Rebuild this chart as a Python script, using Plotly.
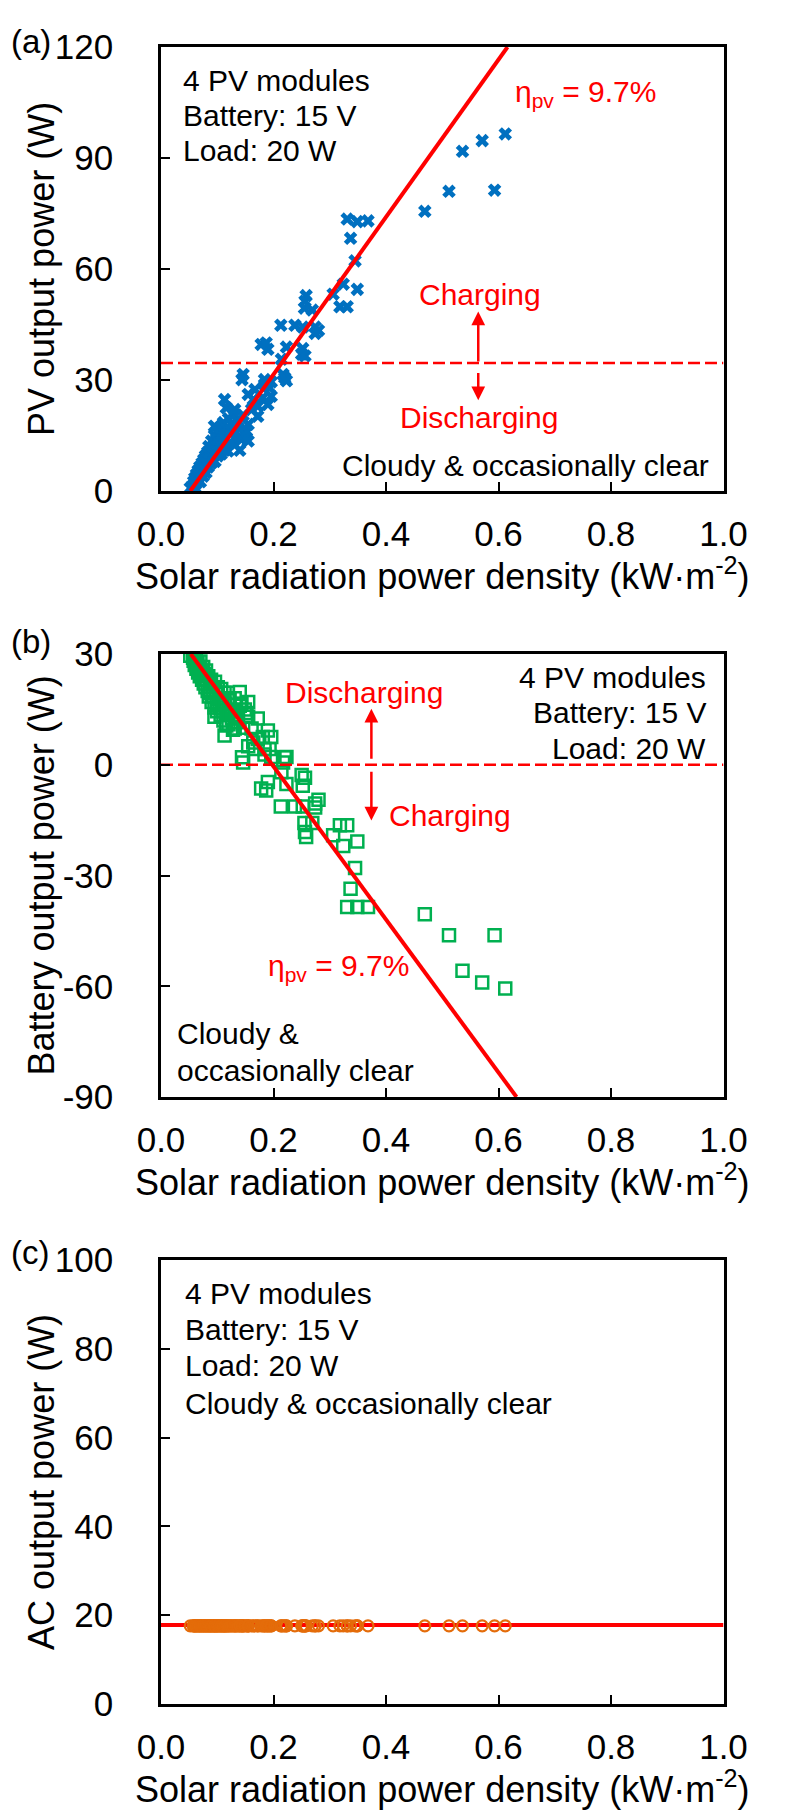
import plotly.graph_objects as go

FONT = "Liberation Sans, Arial, sans-serif"
BLUE = "#0070C0"
GREEN = "#00B050"
ORANGE = "#E46C0A"
RED = "#FF0000"

# ---- data ----
irradiance = [
    0.052, 0.057, 0.058, 0.060, 0.060, 0.062, 0.063, 0.065, 0.066, 0.068,
    0.069, 0.070, 0.072, 0.073, 0.075, 0.076, 0.077, 0.079, 0.080, 0.081,
    0.083, 0.084, 0.085, 0.087, 0.088, 0.089, 0.090, 0.092, 0.093, 0.095,
    0.095, 0.096, 0.098, 0.099, 0.100, 0.101, 0.103, 0.104, 0.106, 0.107,
    0.108, 0.110, 0.111, 0.113, 0.113, 0.114, 0.116, 0.117, 0.119, 0.120,
    0.122, 0.124, 0.126, 0.128, 0.131, 0.131, 0.133, 0.135, 0.137, 0.140,
    0.143, 0.146, 0.146, 0.144, 0.149, 0.152, 0.155, 0.155, 0.140, 0.155,
    0.161, 0.164, 0.167, 0.172, 0.172, 0.178, 0.181, 0.184, 0.184, 0.190,
    0.193, 0.196, 0.196, 0.190, 0.187, 0.214, 0.217, 0.220, 0.223, 0.223,
    0.213, 0.238, 0.252, 0.274, 0.280, 0.274, 0.250, 0.256, 0.252, 0.258,
    0.256, 0.255, 0.269, 0.306, 0.318, 0.331, 0.324, 0.349, 0.345, 0.337,
    0.331, 0.349, 0.368, 0.469, 0.512, 0.593, 0.536, 0.571, 0.612,
]
pv_power = [
    0.8, 1.5, 2.5, 1.0, 3.5, 2.0, 4.5, 3.0, 5.5, 4.0,
    6.5, 2.5, 5.0, 7.5, 4.0, 8.5, 6.0, 9.5, 5.0, 7.5,
    10.5, 6.5, 12.0, 8.5, 11.0, 7.5, 13.5, 9.5, 12.0, 15.0,
    17.5, 8.0, 11.0, 14.0, 16.0, 9.5, 12.5, 15.0, 17.0, 10.0,
    13.5, 16.0, 18.5, 11.0, 24.7, 14.0, 22.5, 17.0, 10.8, 19.5,
    13.0, 15.5, 18.0, 21.0, 12.5, 22.0, 16.0, 19.0, 17.1, 14.5,
    13.9, 20.5, 31.5, 30.1, 15.5, 16.2, 26.1, 18.0, 11.0, 13.5,
    22.0, 24.7, 27.4, 22.9, 20.2, 39.6, 25.2, 30.1, 28.8, 23.4,
    27.9, 25.6, 29.5, 38.3, 40.0, 35.6, 31.5, 30.6, 29.8, 38.9,
    44.8, 44.8, 44.3, 44.3, 43.4, 42.6, 37.0, 36.5, 38.5, 52.8,
    51.3, 49.4, 48.9, 53.2, 49.8, 49.8, 55.9, 54.5, 62.2, 68.3,
    73.5, 72.8, 73.0, 75.6, 81.0, 81.3, 91.8, 94.7, 96.5,
]
battery_power = [
    29.5, 29.0, 28.2, 29.3, 27.0, 28.5, 26.0, 27.5, 25.0, 26.5,
    24.0, 28.0, 25.5, 23.0, 26.5, 22.0, 24.5, 21.0, 25.5, 23.0,
    20.0, 24.0, 18.5, 22.0, 19.5, 23.0, 17.0, 21.0, 18.5, 15.5,
    13.0, 22.5, 19.5, 16.5, 14.5, 21.0, 18.0, 15.5, 13.5, 20.5,
    17.0, 14.5, 12.0, 19.5, 7.9, 16.5, 10.6, 13.5, 19.5, 11.0,
    17.5, 15.0, 12.5, 9.5, 18.0, 9.8, 14.5, 11.5, 13.5, 16.0,
    16.5, 10.0, 0.6, 2.0, 15.0, 14.0, 5.0, 13.0, 19.7, 17.0,
    9.8, 6.0, 4.3, 7.0, 12.5, -6.4, 7.5, 2.8, 4.3, 9.3,
    4.3, 7.5, 2.1, -4.7, -7.0, -2.0, 0.6, 2.0, 2.1, -5.2,
    -11.3, -11.3, -11.3, -10.5, -9.5, -11.6, -2.8, -3.5, -5.7, -19.6,
    -18.2, -15.8, -15.8, -19.1, -16.4, -16.4, -22.0, -20.8, -28.0, -33.6,
    -38.5, -38.5, -38.5, -40.5, -46.2, -46.2, -55.8, -59.0, -60.6,
]
ac_power = [17.6] * len(irradiance)

pv_fit_x = [0.052, 0.616]
pv_fit_y = [0, 120]
bat_fit_x = [0.053, 0.632]
bat_fit_y = [30, -90]
ac_fit_x = [0.0, 1.0]
ac_fit_y = [17.8, 17.8]
pv_threshold = 34.6
bat_threshold = 0.0

x_ticks = [0.0, 0.2, 0.4, 0.6, 0.8, 1.0]
x_tick_text = ["0.0", "0.2", "0.4", "0.6", "0.8", "1.0"]
y_ticks_a = [0, 30, 60, 90, 120]
y_ticks_b = [-90, -60, -30, 0, 30]
y_ticks_c = [0, 20, 40, 60, 80, 100]

W, H = 787, 1812
X0, X1 = 153, 715.5
panels_px = [(39, 483), (646, 1089), (1252, 1696)]


def ydom(top, bottom):
    return [1 - bottom / H, 1 - top / H]


fig = go.Figure()

# Panel (a)
fig.add_trace(go.Scatter(x=irradiance, y=pv_power, mode="markers",
                         marker=dict(symbol="x", size=12, color=BLUE, line=dict(width=0)),
                         xaxis="x", yaxis="y", showlegend=False))
fig.add_trace(go.Scatter(x=[0, 1], y=[pv_threshold, pv_threshold], mode="lines",
                         line=dict(color=RED, width=2.5, dash="12px,5px"),
                         xaxis="x", yaxis="y", showlegend=False))
fig.add_trace(go.Scatter(x=pv_fit_x, y=pv_fit_y, mode="lines",
                         line=dict(color=RED, width=4),
                         xaxis="x", yaxis="y", showlegend=False))

# Panel (b)
fig.add_trace(go.Scatter(x=irradiance, y=battery_power, mode="markers",
                         marker=dict(symbol="square-open", size=12, color=GREEN,
                                     line=dict(width=2.5, color=GREEN)),
                         xaxis="x2", yaxis="y2", showlegend=False))
fig.add_trace(go.Scatter(x=[0, 1], y=[bat_threshold, bat_threshold], mode="lines",
                         line=dict(color=RED, width=2.5, dash="12px,5px"),
                         xaxis="x2", yaxis="y2", showlegend=False))
fig.add_trace(go.Scatter(x=bat_fit_x, y=bat_fit_y, mode="lines",
                         line=dict(color=RED, width=4),
                         xaxis="x2", yaxis="y2", showlegend=False))

# Panel (c)
fig.add_trace(go.Scatter(x=ac_fit_x, y=ac_fit_y, mode="lines",
                         line=dict(color=RED, width=4),
                         xaxis="x3", yaxis="y3", showlegend=False))
fig.add_trace(go.Scatter(x=irradiance, y=ac_power, mode="markers",
                         marker=dict(symbol="circle-open", size=11, color=ORANGE,
                                     line=dict(width=2.2, color=ORANGE)),
                         xaxis="x3", yaxis="y3", showlegend=False))

axis_common = dict(showline=True, linecolor="black", linewidth=2.5, mirror=True,
                   ticks="inside", ticklen=9, tickwidth=2, tickcolor="black",
                   showgrid=False, zeroline=False, automargin=False,
                   tickfont=dict(family=FONT, size=35, color="black"))

xdom = [X0 / W, X1 / W]
yranges = [[0, 120], [-90, 30], [0, 100]]
yticks = [y_ticks_a, y_ticks_b, y_ticks_c]
for i in range(3):
    sfx = "" if i == 0 else str(i + 1)
    fig.update_layout(**{
        "xaxis" + sfx: dict(axis_common, domain=xdom, range=[0, 1], tickvals=x_ticks,
                            ticktext=x_tick_text, anchor="y" + sfx,
                            ticklabelstandoff=10),
        "yaxis" + sfx: dict(axis_common, domain=ydom(*panels_px[i]), range=yranges[i],
                            tickvals=yticks[i], ticktext=[str(v) for v in yticks[i]],
                            anchor="x" + sfx, ticklabelstandoff=38),
    })

ann = []
TXT = dict(family=FONT, size=30, color="black")
RTXT = dict(family=FONT, size=30, color=RED)
AX_T = dict(family=FONT, size=36, color="black")


def text(xr, yr, x, y, t, font, xanchor="center", yanchor="middle", **kw):
    d = dict(xref=xr, yref=yr, x=x, y=y, text=t, font=font, showarrow=False,
             xanchor=xanchor, yanchor=yanchor)
    d.update(kw)
    ann.append(d)


def arrow(xr, yr, x, y0, y1):
    ann.append(dict(xref=xr, yref=yr, axref=xr, ayref=yr, x=x, y=y1, ax=x, ay=y0,
                    text="", showarrow=True, arrowhead=2, arrowsize=1.1,
                    arrowwidth=2.5, arrowcolor=RED))


# Panel (a) annotations
text("x", "y", 0.036, 111.0, "4 PV modules", TXT, "left")
text("x", "y", 0.036, 101.6, "Battery: 15 V", TXT, "left")
text("x", "y", 0.036, 92.0, "Load: 20 W", TXT, "left")
text("x", "y", 0.626, 107.5, "η<sub>pv</sub> = 9.7%", RTXT, "left")
text("x", "y", 0.567, 53.0, "Charging", RTXT)
text("x", "y", 0.565, 20.0, "Discharging", RTXT)
text("x", "y", 0.977, 7.0, "Cloudy & occasionally clear", TXT, "right")
arrow("x", "y", 0.564, pv_threshold, 48.5)
arrow("x", "y", 0.564, 32.3, 24.5)

# Panel (b) annotations
text("x2", "y2", 0.973, 23.7, "4 PV modules", TXT, "right")
text("x2", "y2", 0.973, 14.1, "Battery: 15 V", TXT, "right")
text("x2", "y2", 0.973, 4.5, "Load: 20 W", TXT, "right")
text("x2", "y2", 0.360, 19.7, "Discharging", RTXT)
text("x2", "y2", 0.513, -13.8, "Charging", RTXT)
text("x2", "y2", 0.316, -55.0, "η<sub>pv</sub> = 9.7%", RTXT)
text("x2", "y2", 0.025, -72.7, "Cloudy &", TXT, "left")
text("x2", "y2", 0.025, -82.8, "occasionally clear", TXT, "left")
arrow("x2", "y2", 0.374, 1.2, 15.2)
arrow("x2", "y2", 0.374, -1.5, -15.1)

# Panel (c) annotations
text("x3", "y3", 0.039, 92.5, "4 PV modules", TXT, "left")
text("x3", "y3", 0.039, 84.4, "Battery: 15 V", TXT, "left")
text("x3", "y3", 0.039, 76.2, "Load: 20 W", TXT, "left")
text("x3", "y3", 0.039, 67.6, "Cloudy & occasionally clear", TXT, "left")

# Axis titles and panel labels
ytitles = ["PV output power (W)", "Battery output power (W)", "AC output power (W)"]
labels = ["(a)", "(b)", "(c)"]
label_y = [33, 633, 1244]
for i in range(3):
    top, bottom = panels_px[i]
    text("paper", "paper", (X0 + X1) / 2 / W, 1 - (bottom + 83) / H,
         "Solar radiation power density (kW·m<sup>-2</sup>)", AX_T)
    text("paper", "paper", 33 / W, 1 - (top + bottom) / 2 / H, ytitles[i], AX_T,
         textangle=-90)
    text("paper", "paper", 1 / W, 1 - label_y[i] / H, labels[i],
         dict(family=FONT, size=33, color="black"), "left")

fig.update_layout(width=W, height=H, margin=dict(l=0, r=0, t=0, b=0, pad=0),
                  paper_bgcolor="white", plot_bgcolor="white",
                  annotations=ann, showlegend=False)

fig.write_html("out.html")
